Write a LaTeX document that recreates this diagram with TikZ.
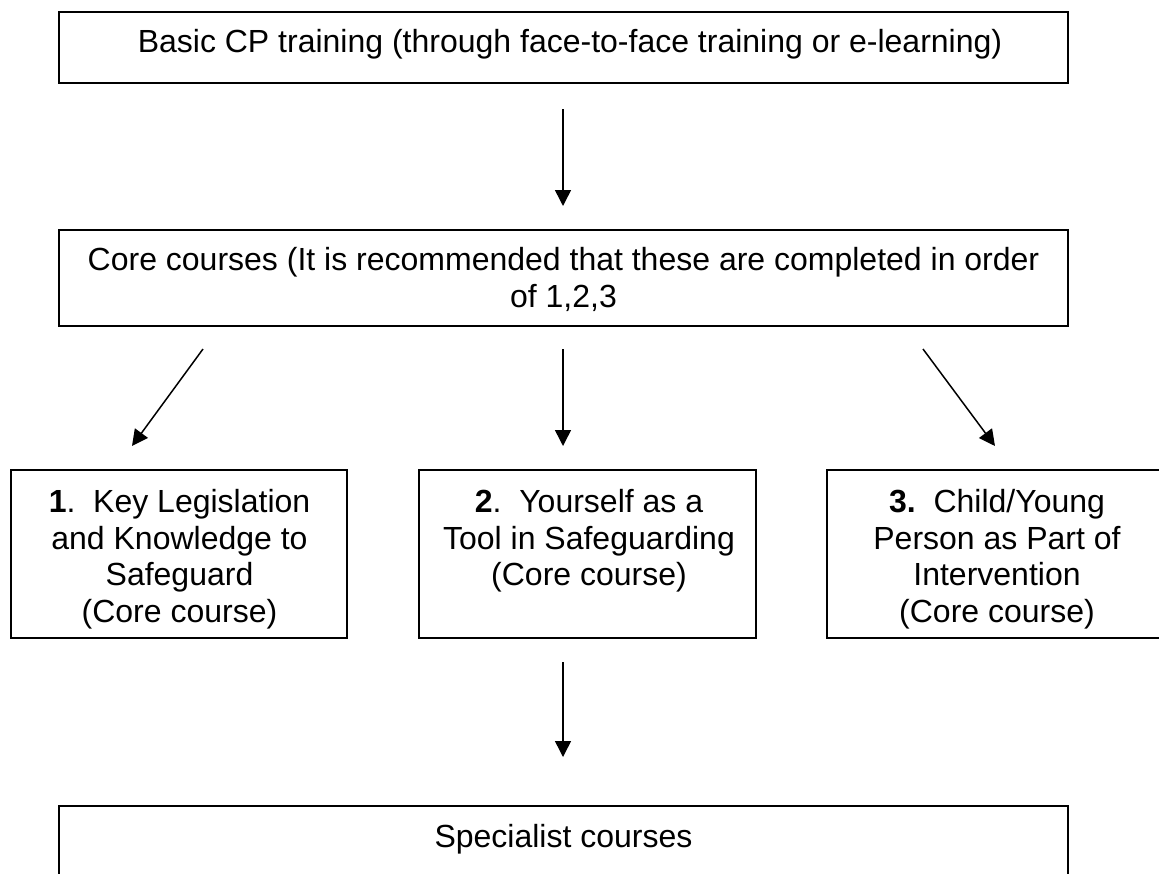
\documentclass[tikz,border=0pt]{standalone}
\usepackage{fontspec}
\setmainfont{Liberation Sans}
\usetikzlibrary{arrows.meta}
\newcommand\diagfont{\fontsize{32pt}{36.6pt}\selectfont}
\newcommand\topstrut{\rule{0pt}{26pt}}
\begin{document}
\begin{tikzpicture}[x=1pt,y=-1pt,
  box/.style={draw, line width=1.6pt, inner sep=0pt, outer sep=0pt},
  txt/.style={anchor=north, inner sep=0pt, outer sep=0pt, align=center, font=\diagfont},
  arr/.style={line width=1.5pt, -{Triangle[length=16pt,width=16pt]}}]
\useasboundingbox (0,0) rectangle (1159,873);
\clip (0,0) rectangle (1159,873);
% boxes
\node[box, minimum width=1009pt, minimum height=71pt] (basic) at (563.5,47.5) {};
\node[box, minimum width=1009pt, minimum height=96pt] (core) at (563.5,278) {};
\node[box, minimum width=336pt, minimum height=168pt] (c1) at (179,554) {};
\node[box, minimum width=337pt, minimum height=168pt] (c2) at (587.5,554) {};
\node[box, minimum width=338pt, minimum height=168pt] (c3) at (996,554) {};
\node[box, minimum width=1009pt, minimum height=110pt] (spec) at (563.5,861) {};
% texts
\node[txt] (tbasic) at (570,26) {\topstrut Basic CP training (through face-to-face training or e-learning)};
\node[txt] (tcore) at (563.5,244.7) {\topstrut Core courses (It is recommended that these are completed in order\\of 1,2,3};
\node[txt] (tc1) at (179.5,486.5) {\topstrut{\bfseries 1}.\ \ Key Legislation\\and Knowledge to\\Safeguard\\(Core course)};
\node[txt] (tc2) at (589,486.5) {\topstrut{\bfseries 2}.\ \ Yourself as a\\Tool in Safeguarding\\(Core course)};
\node[txt] (tc3) at (997,486.5) {\topstrut{\bfseries 3.}\ \ Child/Young\\Person as Part of\\Intervention\\(Core course)};
\node[txt] (tspec) at (563.5,821) {\topstrut Specialist courses};
% arrow ends
\coordinate (a0s) at (563,109);
\coordinate (a0e) at (563,206);
\coordinate (a1s) at (203,349);
\coordinate (a1e) at (132,446);
\coordinate (a2s) at (563,349);
\coordinate (a2e) at (563,446);
\coordinate (a3s) at (923,349);
\coordinate (a3e) at (995,446);
\coordinate (a4s) at (563,662);
\coordinate (a4e) at (563,757);
\draw[arr] (a0s) -- (a0e);
\draw[arr] (a1s) -- (a1e);
\draw[arr] (a2s) -- (a2e);
\draw[arr] (a3s) -- (a3e);
\draw[arr] (a4s) -- (a4e);
\end{tikzpicture}
\end{document}
